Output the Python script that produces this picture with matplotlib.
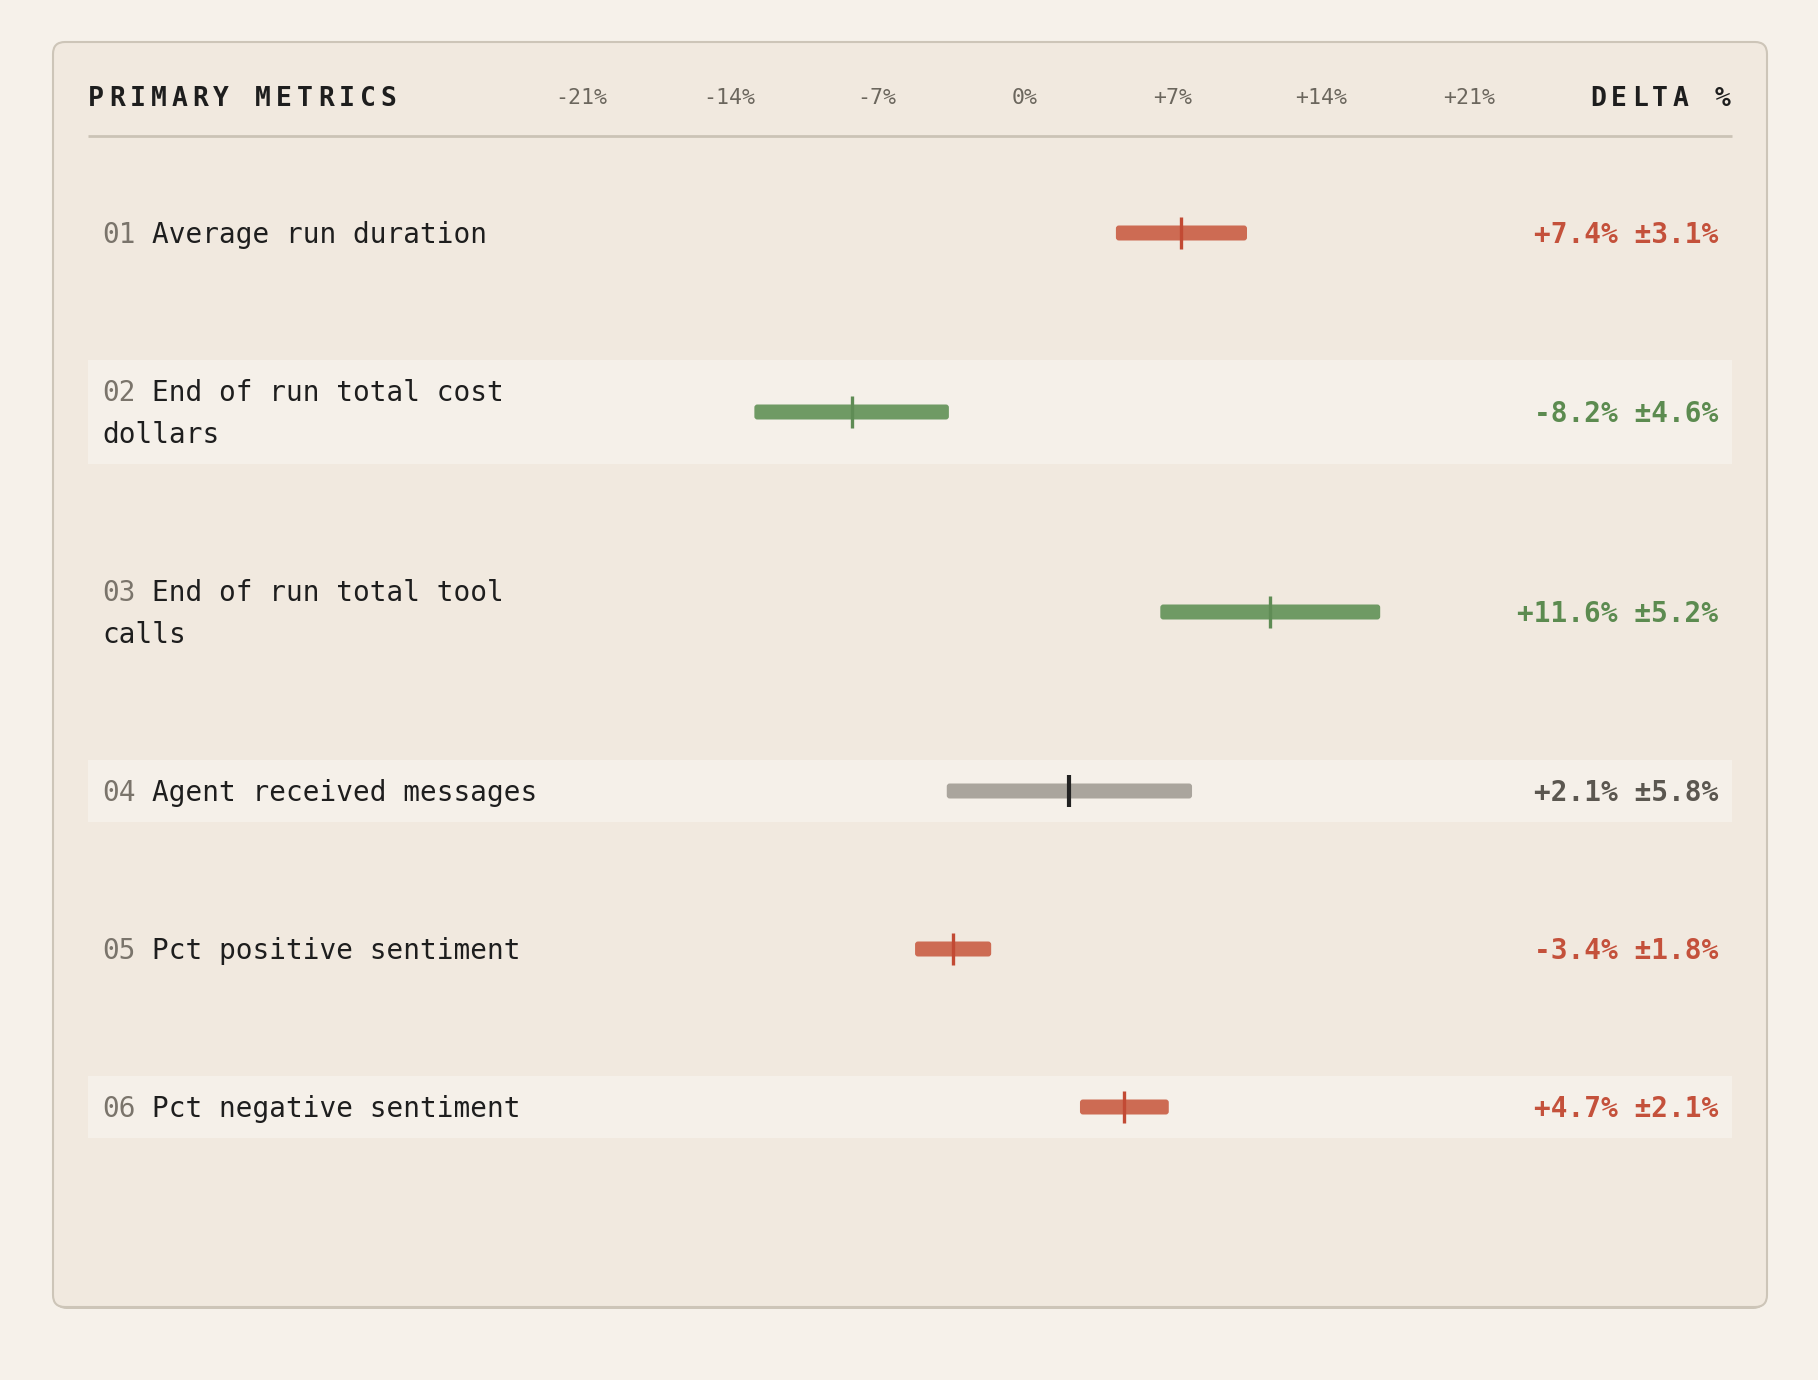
import textwrap
import matplotlib
matplotlib.use("Agg")
import matplotlib.pyplot as plt
from matplotlib.patches import FancyBboxPatch

# data
metrics = ["Average run duration", "End of run total cost dollars",
           "End of run total tool calls", "Agent received messages",
           "Pct positive sentiment", "Pct negative sentiment"]
deltas = [7.4, -8.2, 11.6, 2.1, -3.4, 4.7]
errors = [3.1, 4.6, 5.2, 5.8, 1.8, 2.1]
status = ["worse", "better", "better", "neutral", "worse", "worse"]
ticks = [-21, -14, -7, 0, 7, 14, 21]
tick_labels = ["-21%", "-14%", "-7%", "0%", "+7%", "+14%", "+21%"]

bar_col = {"worse": "#cd6b53", "better": "#6f9a64", "neutral": "#aaa59d"}
mark_col = {"worse": "#c24a34", "better": "#5f8c55", "neutral": "#222222"}
text_col = {"worse": "#c4513b", "better": "#5c8b50", "neutral": "#5b5750"}

FONT = "DejaVu Sans Mono"
W, H = 1818, 1380

fig = plt.figure(figsize=(W / 100, H / 100), dpi=100)
fig.patch.set_facecolor("#f6f1ea")

ax = fig.add_axes([0, 0, 1, 1])
ax.set_xlim(0, W)
ax.set_ylim(H, 0)
ax.axis("off")

# panel with a faint bottom shadow
ax.add_patch(FancyBboxPatch((55, 44), 1710, 1265, boxstyle="round,pad=0,rounding_size=12",
                            fc="#cdc5b8", ec="none"))
ax.add_patch(FancyBboxPatch((53, 42), 1714, 1265, boxstyle="round,pad=0,rounding_size=12",
                            fc="#f1e9df", ec="#cdc5b8", lw=1.5))

# header
def spaced(x, y, s, size, adv, align="left", **kw):
    if align == "right":
        x = x - adv * (len(s) - 1) - size * 0.6 * 100 / 72
    for i, ch in enumerate(s):
        ax.text(x + i * adv, y, ch, ha="left", va="center", fontsize=size,
                family=FONT, **kw)

spaced(88, 99, "PRIMARY METRICS", 19, 20.9, fontweight="bold", color="#1e1e1e")
spaced(1730, 99, "DELTA %", 19, 20.6, align="right", fontweight="bold", color="#1e1e1e")
ax.plot([88, 1732], [136, 136], color="#cbc3b6", lw=2, solid_capstyle="butt")

# data axes for the track (percent units horizontally, pixels vertically)
lo_pct, hi_pct = -24.5, 24.5
px_per_pct = 148 / 7
x0 = 1025 + lo_pct * px_per_pct
x1 = 1025 + hi_pct * px_per_pct
dax = fig.add_axes([x0 / W, 0, (x1 - x0) / W, 1])
dax.set_xlim(lo_pct, hi_pct)
dax.set_ylim(H, 0)
dax.axis("off")
dax.patch.set_alpha(0)

for t, lab in zip(ticks, tick_labels):
    dax.text(t, 98, lab, ha="center", va="center", fontsize=15.5, family=FONT,
             color="#6b665d")

# rows
line_h, pad, gap = 42, 10, 96
y = 202
for i, (name, d, e, st) in enumerate(zip(metrics, deltas, errors, status)):
    num = f"{i + 1:02d}"
    lines = textwrap.wrap(f"{num} {name}", 28)
    h = len(lines) * line_h + 2 * pad
    cy = y + h / 2
    ty = cy + 2
    if i % 2 == 1:
        ax.add_patch(plt.Rectangle((88, y), 1644, h, fc="#f5f0e9", ec="none"))
    for j, ln in enumerate(lines):
        ly = ty + (j - (len(lines) - 1) / 2) * line_h
        if j == 0:
            ax.text(102, ly, num, ha="left", va="center", fontsize=20, family=FONT,
                    color="#7a746b")
            ax.text(102 + 3 * 16.7, ly, ln[3:], ha="left", va="center", fontsize=20,
                    family=FONT, color="#1e1e1e")
        else:
            ax.text(102, ly, ln, ha="left", va="center", fontsize=20, family=FONT,
                    color="#1e1e1e")
    # interval bar
    bh = 15
    dax.add_patch(FancyBboxPatch((d - e, cy - bh / 2), 2 * e, bh,
                                 boxstyle="round,pad=0,rounding_size=0.14",
                                 mutation_aspect=21, fc=bar_col[st], ec="none"))
    dax.plot([d, d], [cy - 16, cy + 16], color=mark_col[st],
             lw=3 if st == "neutral" else 2.4, solid_capstyle="butt")
    ax.text(1718, ty, f"{d:+.1f}% ±{e:.1f}%", ha="right", va="center", fontsize=20,
            family=FONT, fontweight="bold", color=text_col[st])
    y += h + gap

fig.savefig("out.png", dpi=100, facecolor=fig.get_facecolor())
